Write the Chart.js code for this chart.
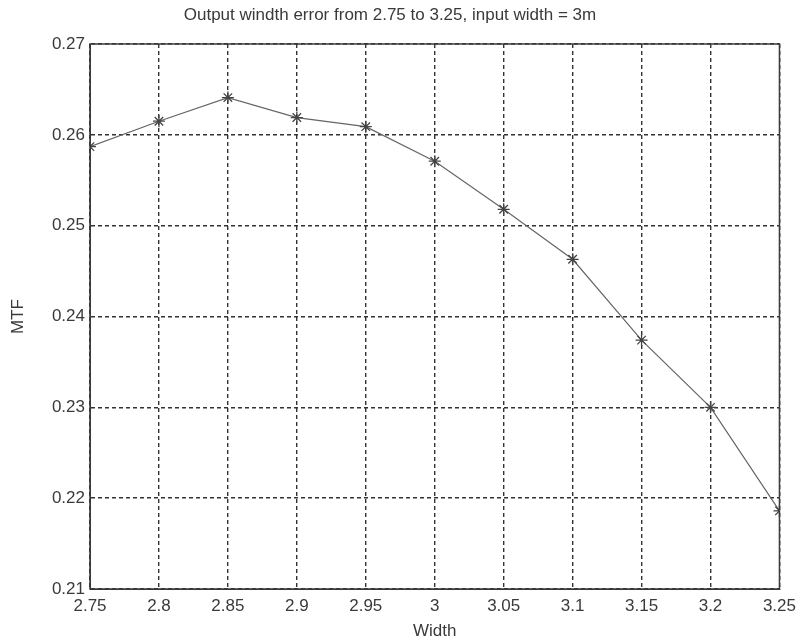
<!DOCTYPE html>
<html>
<head>
<meta charset="utf-8">
<script src="https://cdn.jsdelivr.net/npm/chart.js@4.4.1/dist/chart.umd.min.js"></script>
<style>
  html,body{margin:0;padding:0;background:#fff}
  #wrap{width:803px;height:644px}
</style>
</head>
<body>
<div id="wrap"><canvas id="c" width="803" height="644"></canvas></div>
<script>
// values
const widths = [2.75, 2.8, 2.85, 2.9, 2.95, 3.0, 3.05, 3.1, 3.15, 3.2, 3.25];
const mtf = [0.2587, 0.2615, 0.2641, 0.2619, 0.2609, 0.2571, 0.2518, 0.2463, 0.2374, 0.2300, 0.2186];
const xTicks = [2.75, 2.8, 2.85, 2.9, 2.95, 3.0, 3.05, 3.1, 3.15, 3.2, 3.25];
const yTicks = [0.21, 0.22, 0.23, 0.24, 0.25, 0.26, 0.27];

const FONT = 'Liberation Sans, Arial, sans-serif';
const ink = '#3a3a3a';

// plot box like matlab's axes
const boxPlugin = {
  id: 'box',
  afterDraw(chart) {
    const a = chart.chartArea, ctx = chart.ctx;
    ctx.save();
    ctx.strokeStyle = ink;
    ctx.lineWidth = 1.5;
    ctx.strokeRect(a.left, a.top, a.right - a.left, a.bottom - a.top);
    ctx.restore();
  }
};

new Chart(document.getElementById('c'), {
  type: 'line',
  data: {
    datasets: [{
      data: widths.map((w, i) => ({x: w, y: mtf[i]})),
      borderColor: '#666',
      borderWidth: 1.2,
      pointStyle: 'star',
      pointRadius: 6,
      pointBorderColor: '#444',
      pointBorderWidth: 1.3,
      pointBackgroundColor: '#444',
      tension: 0
    }]
  },
  options: {
    responsive: false,
    animation: false,
    layout: {padding: {left: 0, right: 23, top: 0, bottom: 0}},
    plugins: {
      legend: {display: false},
      tooltip: {enabled: false},
      title: {
        display: true,
        text: 'Output windth error from 2.75 to 3.25, input width = 3m',
        color: ink,
        font: {family: FONT, size: 17, weight: 'normal'},
        padding: {top: 5, bottom: 18.6}
      }
    },
    scales: {
      x: {
        type: 'linear',
        min: 2.75, max: 3.25,
        afterBuildTicks: s => { s.ticks = xTicks.map(v => ({value: v})); },
        afterFit: s => { s.height = 55; },
        ticks: {
          color: ink,
          font: {family: FONT, size: 17},
          padding: 7,
          maxRotation: 0,
          autoSkip: false,
          callback: v => String(parseFloat(v.toFixed(2)))
        },
        grid: {color: '#333', lineWidth: 1.4, drawTicks: false},
        border: {display: true, color: ink, dash: [4, 3]},
        title: {display: true, text: 'Width', color: ink,
          font: {family: FONT, size: 17}, padding: {top: 0, bottom: 2}}
      },
      y: {
        min: 0.21, max: 0.27,
        afterBuildTicks: s => { s.ticks = yTicks.map(v => ({value: v})); },
        afterFit: s => { s.width = 90; },
        ticks: {
          color: ink,
          font: {family: FONT, size: 17},
          padding: 5,
          autoSkip: false,
          callback: v => v.toFixed(2)
        },
        grid: {color: '#333', lineWidth: 1.4, drawTicks: false},
        border: {display: true, color: ink, dash: [4, 3]},
        title: {display: true, text: 'MTF', color: ink,
          font: {family: FONT, size: 17}, padding: {top: 8, bottom: 0}}
      }
    }
  },
  plugins: [boxPlugin]
});
</script>
</body>
</html>
